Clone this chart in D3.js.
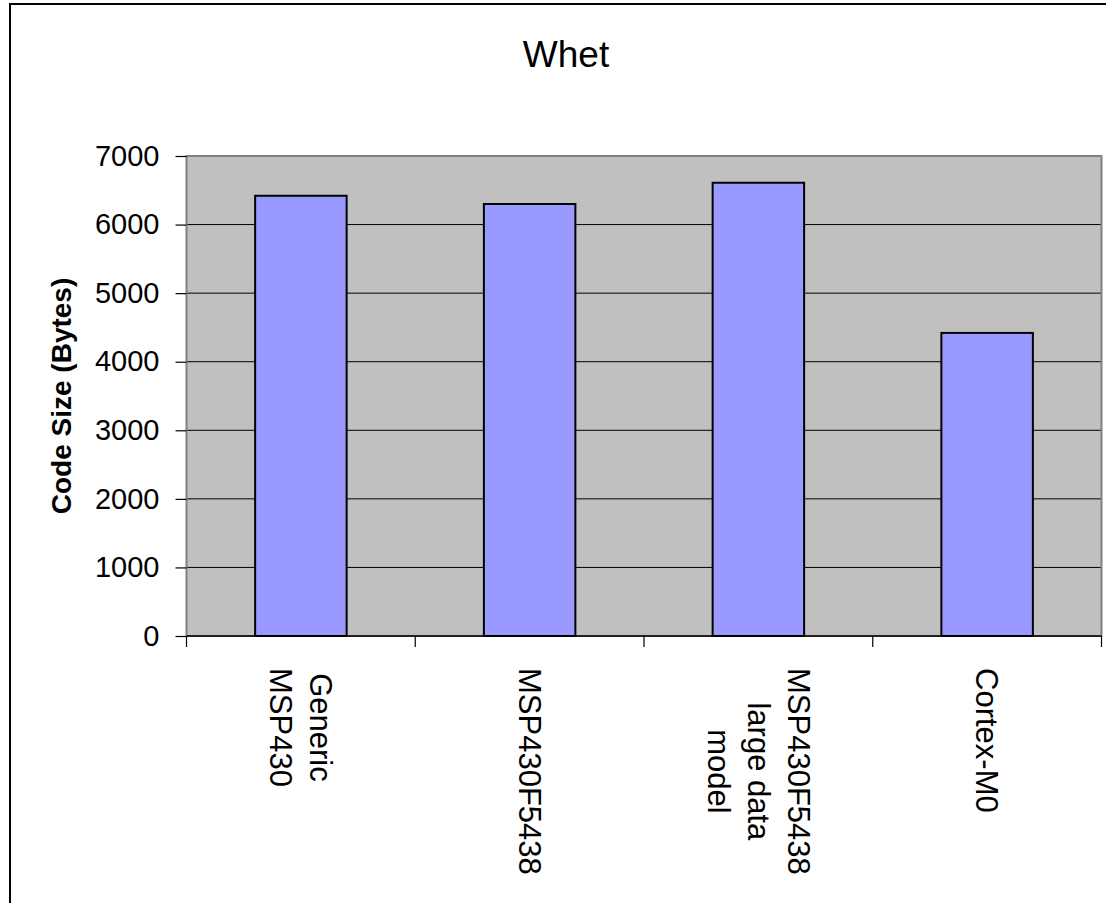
<!DOCTYPE html>
<html>
<head>
<meta charset="utf-8">
<script src="https://cdn.jsdelivr.net/npm/d3@7"></script>
<style>
  body { margin: 0; background: #fff; }
  svg { display: block; font-family: "Liberation Sans", Arial, sans-serif; }
</style>
</head>
<body>
<svg id="chart" width="1106" height="903"></svg>
<script>
// data
const categories = ["Generic\nMSP430", "MSP430F5438", "MSP430F5438\nlarge data\nmodel", "Cortex-M0"];
const codeSize = [6420, 6300, 6610, 4420];
const yTicks = [0, 1000, 2000, 3000, 4000, 5000, 6000, 7000];
const chartTitle = "Whet";
const yTitle = "Code Size (Bytes)";

const svg = d3.select("#chart");

// plot area box
const plot = { left: 186.5, top: 156, right: 1101.5, bottom: 636 };

// outer chart frame (runs off the right and bottom of the picture)
svg.append("rect")
  .attr("x", 10).attr("y", 4)
  .attr("width", 1200).attr("height", 1000)
  .attr("fill", "#fff")
  .attr("stroke", "#000")
  .attr("stroke-width", 2);

const xScale = d3.scaleBand()
  .domain(d3.range(categories.length))
  .range([plot.left, plot.right])
  .padding(0);

const yScale = d3.scaleLinear()
  .domain([0, 7000])
  .range([plot.bottom, plot.top]);

// gray background
svg.append("rect")
  .attr("x", plot.left).attr("y", plot.top)
  .attr("width", plot.right - plot.left)
  .attr("height", plot.bottom - plot.top)
  .attr("fill", "#c0c0c0");

// gridlines
svg.append("g")
  .selectAll("line")
  .data(yTicks.filter(d => d > 0 && d < 7000))
  .enter().append("line")
  .attr("x1", plot.left).attr("x2", plot.right)
  .attr("y1", d => yScale(d)).attr("y2", d => yScale(d))
  .attr("stroke", "#000")
  .attr("stroke-width", 1);

// plot border
svg.append("rect")
  .attr("x", plot.left).attr("y", plot.top)
  .attr("width", plot.right - plot.left)
  .attr("height", plot.bottom - plot.top)
  .attr("fill", "none")
  .attr("stroke", "#808080")
  .attr("stroke-width", 2);

// bars, 40% of the band, centred
const barFrac = 0.4;
svg.append("g")
  .selectAll("rect")
  .data(codeSize)
  .enter().append("rect")
  .attr("x", (d, i) => xScale(i) + xScale.bandwidth() * (1 - barFrac) / 2)
  .attr("y", d => yScale(d))
  .attr("width", xScale.bandwidth() * barFrac)
  .attr("height", d => yScale(0) - yScale(d))
  .attr("fill", "#9999ff")
  .attr("stroke", "#000")
  .attr("stroke-width", 2);

// y axis
const yAxis = d3.axisLeft(yScale)
  .tickValues(yTicks)
  .tickSize(11)
  .tickPadding(16)
  .tickFormat(d3.format("d"));

const yAxisG = svg.append("g")
  .attr("transform", `translate(${plot.left},0)`)
  .call(yAxis);
yAxisG.select(".domain").remove();
yAxisG.selectAll(".tick line").attr("stroke", "#000").attr("stroke-width", 1.2);
yAxisG.selectAll(".tick text")
  .attr("font-size", 29)
  .attr("font-family", "Liberation Sans, Arial, sans-serif")
  .attr("fill", "#000");

// x axis line with ticks at category boundaries
svg.append("line")
  .attr("x1", plot.left).attr("x2", plot.right)
  .attr("y1", plot.bottom).attr("y2", plot.bottom)
  .attr("stroke", "#000").attr("stroke-width", 1.5);

svg.append("g")
  .selectAll("line")
  .data(d3.range(categories.length + 1))
  .enter().append("line")
  .attr("x1", i => plot.left + i * xScale.bandwidth())
  .attr("x2", i => plot.left + i * xScale.bandwidth())
  .attr("y1", plot.bottom)
  .attr("y2", plot.bottom + 11)
  .attr("stroke", "#000").attr("stroke-width", 1.2);

// category labels, rotated to read downwards
const lineH = 40;
const labelTop = 668;
categories.forEach((cat, i) => {
  const lines = cat.split("\n");
  const cx = xScale(i) + xScale.bandwidth() / 2;
  const g = svg.append("g")
    .attr("transform", `translate(${cx},${labelTop}) rotate(90)`);
  const texts = g.selectAll("text")
    .data(lines)
    .enter().append("text")
    .attr("y", (d, j) => (j - (lines.length - 1) / 2) * lineH)
    .attr("dy", "0.35em")
    .attr("font-size", 31)
    .attr("fill", "#000")
    .text(d => d);
  let maxLen = 0;
  texts.each(function () { maxLen = Math.max(maxLen, this.getComputedTextLength()); });
  texts.attr("x", maxLen / 2).attr("text-anchor", "middle");
});

// y axis title
svg.append("text")
  .attr("transform", `translate(61,${(plot.top + plot.bottom) / 2}) rotate(-90)`)
  .attr("text-anchor", "middle")
  .attr("dy", "0.35em")
  .attr("font-size", 28)
  .attr("font-weight", "bold")
  .text(yTitle);

// chart title
svg.append("text")
  .attr("x", 566)
  .attr("y", 67)
  .attr("text-anchor", "middle")
  .attr("font-size", 37)
  .text(chartTitle);
</script>
</body>
</html>
